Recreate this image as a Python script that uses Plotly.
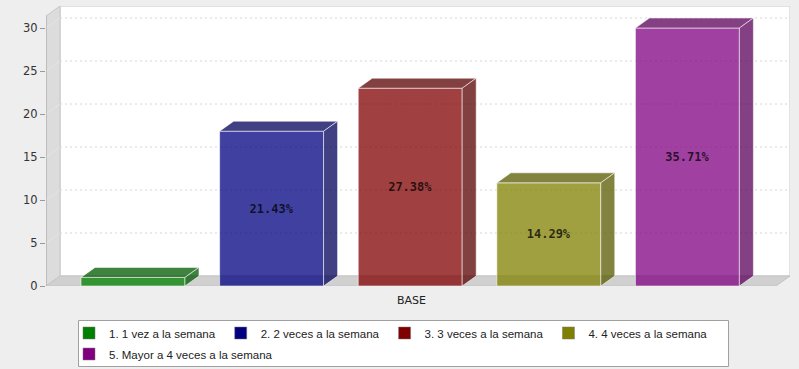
import plotly.graph_objects as go

# ---------------- data ----------------
category = "BASE"
series = [
    "1. 1 vez a la semana",
    "2. 2 veces a la semana",
    "3. 3 veces a la semana",
    "4. 4 veces a la semana",
    "5. Mayor a 4 veces a la semana",
]
counts = [1, 18, 23, 12, 30]
base_rgb = [(0, 128, 0), (0, 0, 128), (128, 0, 0), (128, 128, 0), (128, 0, 128)]
legend_row = ["legend", "legend", "legend", "legend", "legend2"]
y_ticks = [0, 5, 10, 15, 20, 25, 30]

total = sum(counts)
pct_labels = [f"{100 * c / total:.2f}%" for c in counts]

# ---------------- geometry (layout only) ----------------
W, H = 799, 369
m_l, m_r, m_t, m_b = 46, 9, 6, 83
plot_w = W - m_l - m_r
plot_h = H - m_t - m_b
px_per_x = 138.6
px_per_y = 8.6
x_lo = -87 / px_per_x
x_hi = x_lo + plot_w / px_per_x
y_hi = plot_h / px_per_y
dxu = 14 / px_per_x
dyu = 10 / px_per_y
bar_w = 0.75
x_front_hi = x_hi - dxu
y_front_hi = y_hi - dyu


def rgba(c, a):
    return f"rgba({c[0]},{c[1]},{c[2]},{a})"


def darker(c, f=0.7):
    return tuple(int(v * f) for v in c)


def paper_x(px):
    return (px - m_l) / plot_w


def paper_y(py):
    return (H - m_b - py) / plot_h


shapes = []
# back wall
shapes.append(dict(type="rect", xref="x", yref="y", x0=x_lo + dxu, y0=dyu, x1=x_hi, y1=y_hi,
                   fillcolor="white", line=dict(color="#c4c4c4", width=1), layer="below"))
# left wall
shapes.append(dict(type="path", xref="x", yref="y",
                   path=f"M{x_lo},0 L{x_lo + dxu},{dyu} L{x_lo + dxu},{y_hi} L{x_lo},{y_front_hi} Z",
                   fillcolor="#dcdcdc", line=dict(color="#c8c8c8", width=1), layer="below"))
# floor
shapes.append(dict(type="path", xref="x", yref="y",
                   path=f"M{x_lo},0 L{x_front_hi},0 L{x_hi},{dyu} L{x_lo + dxu},{dyu} Z",
                   fillcolor="#d0d0d0", line=dict(color="#c4c4c4", width=1), layer="below"))
# grid lines on back wall
for v in y_ticks[1:]:
    shapes.append(dict(type="line", xref="x", yref="y", x0=x_lo + dxu, y0=v + dyu, x1=x_hi, y1=v + dyu,
                       line=dict(color="#d6d6d6", width=1, dash="2px,3px"), layer="below"))
    shapes.append(dict(type="line", xref="x", yref="y", x0=x_lo, y0=v, x1=x_lo + dxu, y1=v + dyu,
                       line=dict(color="#e4e4e4", width=1), layer="below"))
# y axis line
shapes.append(dict(type="line", xref="x", yref="y", x0=x_lo, y0=0, x1=x_lo, y1=y_front_hi,
                   line=dict(color="#a8a8a8", width=1), layer="above"))
# legend frame
shapes.append(dict(type="rect", xref="paper", yref="paper",
                   x0=paper_x(78.5), x1=paper_x(728.5), y0=paper_y(366.5), y1=paper_y(320.5),
                   fillcolor="white", line=dict(color="#a0a0a0", width=1), layer="above"))

edge = "rgba(255,255,255,0.55)"
fig = go.Figure()
for i, (name, c, col, lab) in enumerate(zip(series, counts, base_rgb, pct_labels)):
    fig.add_trace(go.Bar(
        x=[i], y=[c], width=bar_w,
        marker=dict(color=rgba(col, 0.75), line=dict(color=edge, width=1)),
        text=[lab], textposition="inside", insidetextanchor="middle", textangle=0,
        textfont=dict(family="DejaVu Sans Mono", size=12, color="rgba(0,0,0,0.75)", weight="bold"),
        showlegend=False, hoverinfo="skip",
    ))
    x0, x1 = i - bar_w / 2, i + bar_w / 2
    dk = rgba(darker(col), 0.75)
    # top face
    shapes.append(dict(type="path", xref="x", yref="y",
                       path=f"M{x0},{c} L{x1},{c} L{x1 + dxu},{c + dyu} L{x0 + dxu},{c + dyu} Z",
                       fillcolor=dk, line=dict(color=edge, width=1), layer="above"))
    # side face
    shapes.append(dict(type="path", xref="x", yref="y",
                       path=f"M{x1},0 L{x1 + dxu},{dyu} L{x1 + dxu},{c + dyu} L{x1},{c} Z",
                       fillcolor=dk, line=dict(color=edge, width=1), layer="above"))

# legend entries
for name, col, lg in zip(series, base_rgb, legend_row):
    fig.add_trace(go.Bar(x=[None], y=[None], name=name, legend=lg,
                         marker=dict(color=rgba(col, 1), line=dict(color="#777", width=0.5))))

legend_font = dict(family="Liberation Sans", size=11.5, color="#222")
legend_common = dict(orientation="h", xref="container", yref="container",
                     xanchor="left", yanchor="middle",
                     bgcolor="rgba(0,0,0,0)", borderwidth=0,
                     font=legend_font, tracegroupgap=0, itemwidth=30)

fig.update_layout(
    width=W, height=H,
    margin=dict(l=m_l, r=m_r, t=m_t, b=m_b),
    paper_bgcolor="#eeeeee", plot_bgcolor="rgba(0,0,0,0)",
    barmode="overlay",
    shapes=shapes,
    uniformtext=dict(minsize=12, mode="hide"),
    font=dict(family="DejaVu Sans", size=11, color="#333"),
    xaxis=dict(range=[x_lo, x_hi], showticklabels=False, showgrid=False, zeroline=False,
               showline=False, ticks="", fixedrange=True),
    yaxis=dict(range=[0, y_hi], tickvals=y_ticks, ticks="outside", ticklen=5, tickcolor="#999",
               showgrid=False, zeroline=False, showline=False,
               tickfont=dict(family="DejaVu Sans", size=11.5, color="#333")),
    legend=dict(x=69 / W, y=1 - 333 / H, **legend_common),
    legend2=dict(x=69 / W, y=1 - 354 / H, **legend_common),
    annotations=[dict(text=category, xref="x", yref="y", x=(x_lo + x_front_hi) / 2, y=0,
                      yanchor="top", yshift=-6, showarrow=False,
                      font=dict(family="DejaVu Sans", size=11, color="#222"))],
    showlegend=True,
)

fig.write_html("out.html")
